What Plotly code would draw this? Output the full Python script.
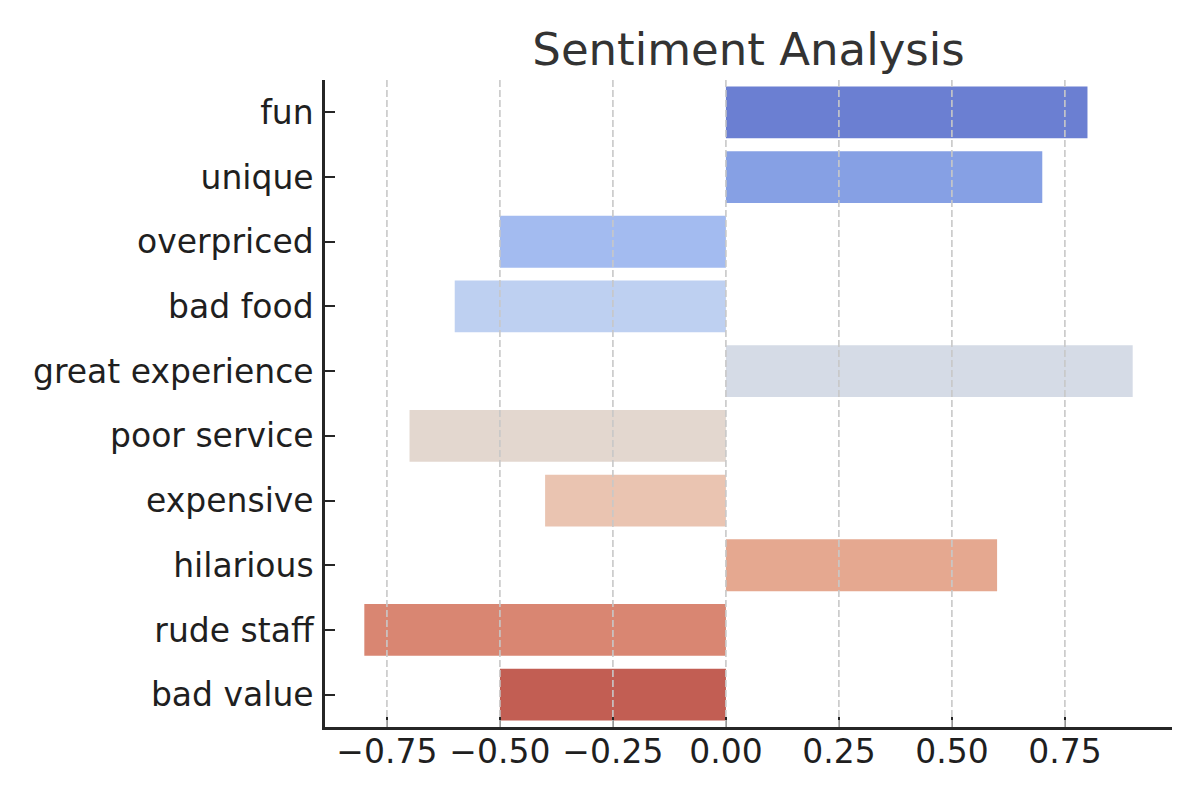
import plotly.graph_objects as go

# sentiment scores per phrase (top to bottom)
phrases = ['fun', 'unique', 'overpriced', 'bad food', 'great experience',
           'poor service', 'expensive', 'hilarious', 'rude staff', 'bad value']
scores = [0.8, 0.7, -0.5, -0.6, 0.9, -0.7, -0.4, 0.6, -0.8, -0.5]
bar_colors = ['#6B7FD2', '#86A0E4', '#A3BBF0', '#BED0F1', '#D5DBE6',
              '#E3D7CF', '#EAC4B1', '#E5A890', '#D98672', '#C25E53']
tick_vals = [-0.75, -0.5, -0.25, 0.0, 0.25, 0.5, 0.75]

fig = go.Figure(go.Bar(
    x=scores, y=phrases, orientation='h',
    marker=dict(color=bar_colors, line=dict(width=0)),
    width=0.8,
))

# dashed vertical grid drawn over the bars, like the original
for t in tick_vals:
    fig.add_shape(type='line', xref='x', yref='paper', x0=t, x1=t, y0=0, y1=1,
                  layer='above', line=dict(color='#c8c8c8', width=1.6, dash='7px,3px'))

fig.update_layout(
    width=1200, height=800,
    plot_bgcolor='white', paper_bgcolor='white',
    font=dict(family='DejaVu Sans', size=33, color='#1f1f1f'),
    title=dict(text='Sentiment Analysis', x=0.5, xanchor='center', xref='paper',
               y=0.948, yanchor='middle', font=dict(size=45, color='#333333')),
    margin=dict(l=317, r=36, t=72, b=81),
    showlegend=False,
)

fig.update_xaxes(
    range=[-0.887, 0.987], tickvals=tick_vals, tickformat='.2f',
    showgrid=False, zeroline=False, showline=True, linecolor='#262626', linewidth=2.5,
    ticks='inside', ticklen=10, tickwidth=2, tickcolor='#262626',
    layer='above traces', ticklabelstandoff=-6,
)
fig.update_yaxes(
    autorange=False, range=[9.5, -0.5], categoryorder='array', categoryarray=phrases,
    showgrid=False, zeroline=False, showline=True, linecolor='#262626', linewidth=2.5,
    ticks='inside', ticklen=10, tickwidth=2, tickcolor='#262626',
    ticklabelstandoff=2, layer='above traces',
)

fig.write_html('out.html')
